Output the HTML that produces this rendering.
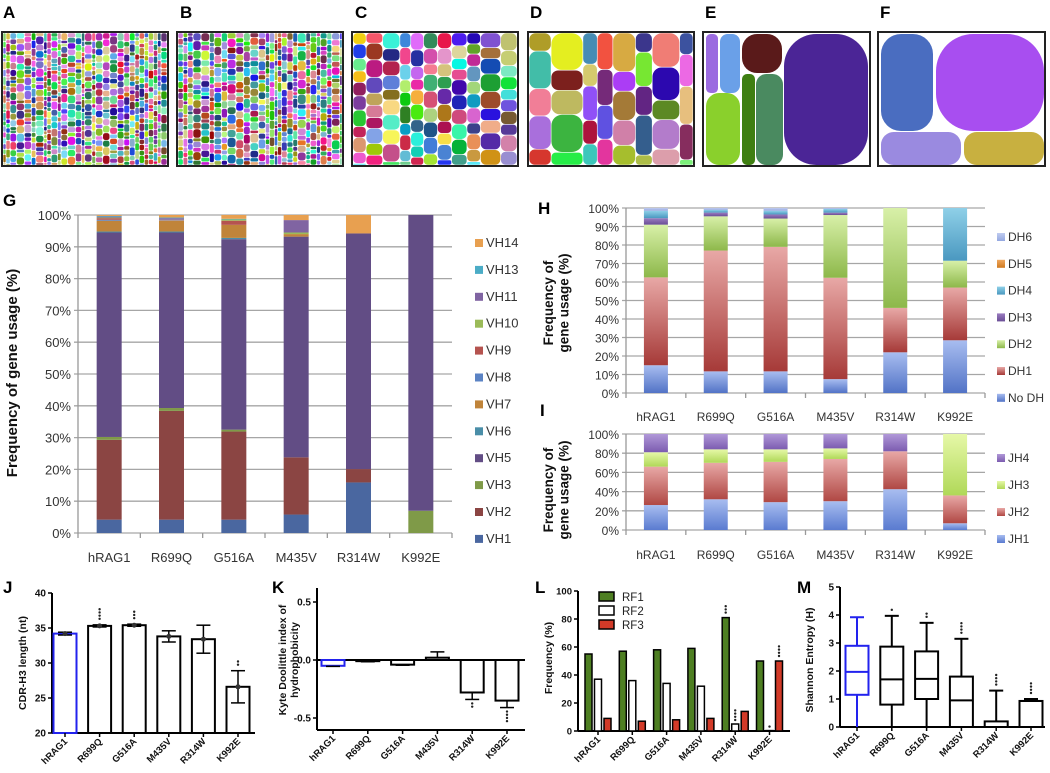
<!DOCTYPE html>
<html><head><meta charset="utf-8"><style>
html,body{margin:0;padding:0;background:#fff;}
svg{display:block;}
.nar{font-family:"Liberation Sans Narrow","Liberation Sans",sans-serif;}
.b{font-family:"Liberation Sans",sans-serif;font-weight:bold;}
</style></head><body>
<svg id="fig" xmlns="http://www.w3.org/2000/svg" width="1050" height="773" viewBox="0 0 1050 773">
<defs id="defs"></defs>
</svg>
<script>
// ---------- data ----------
const categories = ["hRAG1","R699Q","G516A","M435V","R314W","K992E"];
// G: cumulative tops (%) per VH family, bottom->top
const vhSeries = ["VH1","VH2","VH3","VH5","VH6","VH7","VH8","VH9","VH10","VH11","VH13","VH14"];
const vhColors = ["#4a67a0","#8b4543","#7f9a48","#624d85","#4a8ea8","#c0843a","#5b83c4","#b5534f","#9bbb59","#8064a2","#4bacc6","#e8a050"];
const vhHRAG1 = [4.2,25.1,0.9,64.3,0.3,3.4,0.3,0.5,0.2,0.3,0.2,0.3];
const vhR699Q = [4.2,34.2,0.9,55.2,0.3,3.4,0.1,0.1,0.1,0.5,0.2,0.8];
const vhG516A = [4.2,27.7,0.6,59.9,0.4,4.1,0,1.3,0.4,0,0.2,1.2];
const vhM435V = [5.8,18.0,0,69.4,0,0.8,0,0,0.5,3.9,0,1.6];
const vhR314W = [15.9,4.2,0,74.1,0,0,0,0,0,0,0,5.8];
const vhK992E = [0,0,7,93,0,0,0,0,0,0,0,0];
const dhSeries = ["No DH","DH1","DH2","DH3","DH4","DH5","DH6"];
const dhHRAG1 = [15,47.5,28.5,3.5,4,0,1.5];
const dhR699Q = [11.7,65.3,18.5,2,1.5,0,1];
const dhG516A = [11.7,67.3,15.3,2.2,2,0,1.5];
const dhM435V = [7.5,54.8,33.9,1.3,2,0,0.5];
const dhR314W = [22,24,54,0,0,0,0];
const dhK992E = [28.5,28.5,14.5,0,28.5,0,0];
const jhSeries = ["JH1","JH2","JH3","JH4"];
const jhHRAG1 = [26,40,15,19];
const jhR699Q = [32,38,14,16];
const jhG516A = [29,42,13,16];
const jhM435V = [30,44,11,15];
const jhR314W = [42.5,39.5,0,18];
const jhK992E = [7,29,64,0];
const cdrMean = [34.2,35.3,35.4,33.8,33.4,26.6];
const cdrErr = [0.2,0.15,0.15,0.8,2.0,2.3];
const cdrStars = [0,4,3,0,0,2];
const kdMean = [-0.05,-0.01,-0.04,0.02,-0.28,-0.35];
const kdErr = [0.005,0.005,0.005,0.05,0.06,0.06];
const kdStars = [0,0,0,0,2,4];
const rf1 = [55,57,58,59,81,50];
const rf2 = [37,36,34,32,5,0.3];
const rf3 = [9,7,8,9,14,50];
const rf1Stars = [0,0,0,0,3,0];
const rf2Stars = [0,0,0,0,4,1];
const rf3Stars = [0,0,0,0,0,4];
const shMin = [0,0,0,0,0,0];
const shQ1 = [1.15,0.8,1.0,0,0,0];
const shMed = [1.97,1.7,1.72,0.95,0,0.93];
const shQ3 = [2.9,2.87,2.7,1.8,0.2,0.93];
const shMax = [3.92,3.97,3.72,3.15,1.3,1.0];
const shStars = [0,1,2,4,4,4];
const pctTicks = [0,10,20,30,40,50,60,70,80,90,100];
const pct20Ticks = [0,20,40,60,80,100];
const cdrTicks = [20,25,30,35,40];
const kdTicks = [-0.5,0.0,0.5];
const rfTicks = [0,20,40,60,80,100];
const shTicks = [0,1,2,3,4,5];

// ---------- helpers ----------
const NS="http://www.w3.org/2000/svg";
const svg=document.getElementById('fig');
const defs=document.getElementById('defs');
function mk(tag,attrs,parent){const e=document.createElementNS(NS,tag);for(const k in attrs)e.setAttribute(k,attrs[k]);(parent||svg).appendChild(e);return e;}
function txt(s,attrs,parent){const e=mk('text',attrs,parent);e.textContent=s;return e;}
function grad(id,c1,c2){const g=mk('linearGradient',{id:id,x1:0,y1:0,x2:0,y2:1},defs);mk('stop',{offset:'0','stop-color':c1},g);mk('stop',{offset:'1','stop-color':c2},g);}

// ---------- panel letters ----------
const letters=[["A",3,18],["B",180,18],["C",355,18],["D",530,18],["E",705,18],["F",880,18],["G",3,206],["H",538,214],["I",540,416],["J",3,593],["K",272,593],["L",535,593],["M",797,593]];
letters.forEach(l=>{const t=txt(l[0],{x:l[1],y:l[2],class:'b','font-size':17,fill:'#000'});

});

// ---------- treemaps A-F (decorative) ----------
let seed=7;function rnd(){seed=(seed*16807)%2147483647;return (seed-1)/2147483646;}
function rcol(){const h=Math.floor(rnd()*360),s=40+Math.floor(rnd()*55),l=30+Math.floor(rnd()*45);return `hsl(${h},${s}%,${l}%)`;}
function treemap(name,x,y,w,h,cmin,cmax,rmin,rmax){
  const g=mk('g',{});
  
  
  mk('rect',{x:x,y:y,width:w,height:h,fill:'#fff'},g);
  let cx=x+1;
  while(cx<x+w-1){let cw=cmin+rnd()*(cmax-cmin);if(cx+cw>x+w-1)cw=x+w-1-cx;
    let cy=y+1;while(cy<y+h-1){let rh=rmin+rnd()*(rmax-rmin);if(cy+rh>y+h-1)rh=y+h-1-cy;
      const r=Math.min(cw,rh)/3;mk('rect',{x:cx+0.3,y:cy+0.3,width:Math.max(cw-0.6,0.5),height:Math.max(rh-0.6,0.5),rx:r,fill:rcol()},g);cy+=rh;}
    cx+=cw;}
  mk('rect',{x:x,y:y,width:w,height:h,fill:'none',stroke:'#222','stroke-width':2},g);
}
treemap('a',2,32,166,134,3,8,3,9);
treemap('b',177,32,166,134,3,9,3,10);
treemap('c',352,32,166,134,10,22,10,18);
treemap('d',528,32,166,134,14,34,18,40);
function fixed(name,x,y,w,h,tiles){const g=mk('g',{});
  
  
  mk('rect',{x:x,y:y,width:w,height:h,fill:'#fff'},g);
  tiles.forEach(t=>mk('rect',{x:t[0],y:t[1],width:t[2]-t[0],height:t[3]-t[1],rx:Math.min(t[2]-t[0],t[3]-t[1])/2.6,fill:t[4]},g));
  mk('rect',{x:x,y:y,width:w,height:h,fill:'none',stroke:'#222','stroke-width':2},g);}
fixed('e',703,32,167,134,[[706,34,718,93,'#9b6be0'],[720,34,740,93,'#6aa0e8'],[742,34,782,73,'#5a1a1a'],[784,34,868,165,'#4b2596'],[706,93,740,165,'#8ad02c'],[742,74,755,165,'#3f7f12'],[756,74,783,165,'#4a8a60']]);
fixed('f',878,32,167,134,[[881,34,933,131,'#4a6dc0'],[936,34,1044,131,'#a84ef0'],[881,132,961,165,'#9a8ae0'],[964,132,1044,165,'#c8b040']]);

// ---------- stacked chart generic ----------
function stacked(name,opts){
  const {x0,x1,yTop,yBot,ticks,data,colors,fillIds,series,legendX,legendY,legendStep,labelY,barW}=opts;
  const g=mk('g',{});
  
  
  const band=(x1-x0)/categories.length;
  const xs=i=>x0+band*(i+0.5);
  const ys=v=>yBot-(yBot-yTop)*v/100;
  ticks.forEach(t=>{
    const l=mk('line',{x1:x0-4,x2:x1,y1:ys(t),y2:ys(t),stroke:'#a6a6a6','stroke-width':1.3},g);
    
    
    const tl=txt(t+'%',{x:x0-7,y:ys(t)+5,'text-anchor':'end',class:'nar','font-size':opts.fs,fill:'#333'},g);
    
    
  });
  mk('line',{x1:x0,x2:x0,y1:yTop,y2:yBot,stroke:'#999','stroke-width':1.3},g);
  for(let i=0;i<=categories.length;i++){mk('line',{x1:x0+band*i,x2:x0+band*i,y1:yBot,y2:yBot+5,stroke:'#999','stroke-width':1.3},g);}
  categories.forEach((c,i)=>{
    let acc=0;
    data[i].forEach((v,k)=>{if(v<=0)return;
      const r=mk('rect',{x:xs(i)-barW/2,y:ys(acc+v),width:barW,height:ys(acc)-ys(acc+v),fill:fillIds?`url(#${fillIds[k]})`:colors[k]},g);
      
      
      acc+=v;});
    const cl=txt(c,{x:xs(i),y:labelY,'text-anchor':'middle',class:'nar','font-size':opts.fs,fill:'#333'},g);
    
    
  });
  // legend (top entry = last series)
  const n=series.length;
  series.slice().reverse().forEach((s,j)=>{const k=n-1-j;const yy=legendY+j*legendStep;
    const lg=mk('g',{},g);
    
    
    mk('rect',{x:legendX,y:yy-8,width:8,height:8,fill:fillIds?`url(#${fillIds[k]})`:colors[k]},lg);
    txt(s,{x:legendX+11,y:yy,class:'nar','font-size':opts.fs,fill:'#333'},lg);});
}
// gradients
const dhGrad=[["#a8bdf0","#5273c6"],["#e8a8a6","#a63a38"],["#d8f0a8","#8db84a"],["#9a7cc0","#6a4e96"],["#8fd0e8","#4a98c0"],["#f0a860","#d07a20"],["#c0ccf0","#94a8e0"]];
const jhGrad=[["#a8bdf0","#5a7bd0"],["#e8a8a6","#b04844"],["#e6f8a8","#b0d858"],["#b098d8","#7c5cb0"]];
dhGrad.forEach((c,i)=>grad('dh'+i,c[0],c[1]));
jhGrad.forEach((c,i)=>grad('jh'+i,c[0],c[1]));

stacked('chart-g-vh-usage',{x0:78,x1:452,yTop:215,yBot:533,ticks:pctTicks,data:[vhHRAG1,vhR699Q,vhG516A,vhM435V,vhR314W,vhK992E],colors:vhColors,series:vhSeries,legendX:475,legendY:247,legendStep:26.9,labelY:562,barW:25,fs:13});
stacked('chart-h-dh-usage',{x0:626,x1:985,yTop:208,yBot:393,ticks:pctTicks,data:[dhHRAG1,dhR699Q,dhG516A,dhM435V,dhR314W,dhK992E],fillIds:dhGrad.map((c,i)=>'dh'+i),series:dhSeries,legendX:997,legendY:241,legendStep:26.8,labelY:421,barW:24,fs:12});
stacked('chart-i-jh-usage',{x0:626,x1:985,yTop:434,yBot:530,ticks:pct20Ticks,data:[jhHRAG1,jhR699Q,jhG516A,jhM435V,jhR314W,jhK992E],fillIds:jhGrad.map((c,i)=>'jh'+i),series:jhSeries,legendX:997,legendY:462,legendStep:27,labelY:559,barW:24,fs:12});

// axis titles
function vtitle(lines,x,y,size,name){const t=mk('text',{transform:`translate(${x},${y}) rotate(-90)`,'text-anchor':'middle',class:'b','font-size':size,fill:'#111'});
  
  
  lines.forEach((s,i)=>{const ts=mk('tspan',{x:0,dy:i?size*1.15:0},t);ts.textContent=s;});}
vtitle(["Frequency of gene usage (%)"],17,373,15,'y-axis-title-g');
vtitle(["Frequency of","gene usage (%)"],553,303,13.5,'y-axis-title-h');
vtitle(["Frequency of","gene usage (%)"],553,490,13.5,'y-axis-title-i');

// ---------- bottom charts ----------
function stars(g,x,y,n,dir){for(let k=0;k<n;k++){mk('circle',{cx:x,cy:y+dir*k*3.2,r:1.2,fill:'#222'},g);}}
function catLabels(g,xs,yAxis){categories.forEach((c,i)=>{const t=txt(c,{transform:`translate(${xs(i)+3},${yAxis+9}) rotate(-45)`,'text-anchor':'end',class:'b','font-size':9.5,fill:'#111'},g);
  
  
  mk('line',{x1:xs(i),x2:xs(i),y1:yAxis,y2:yAxis+4,stroke:'#000','stroke-width':1.5},g);});}
function yTicks(g,ticks,ys,x,fmt,fs){ticks.forEach(t=>{mk('line',{x1:x-4,x2:x,y1:ys(t),y2:ys(t),stroke:'#000','stroke-width':1.5},g);
  const l=txt(fmt(t),{x:x-6,y:ys(t)+3.5,'text-anchor':'end',class:'b','font-size':fs||10,fill:'#111'},g);
  
  });}

// J
(function(){const g=mk('g',{});
 
 
 const ys=v=>733-(v-20)*7;const xs=i=>65+i*34.6;const bw=23;
 mk('line',{x1:52,x2:255,y1:733,y2:733,stroke:'#000','stroke-width':2},g);
 mk('line',{x1:52,x2:52,y1:593,y2:733,stroke:'#000','stroke-width':2},g);
 yTicks(g,cdrTicks,ys,52,t=>t,10);
 categories.forEach((c,i)=>{const col=i==0?'#2222ee':'#000';
  const r=mk('rect',{x:xs(i)-bw/2,y:ys(cdrMean[i]),width:bw,height:733-ys(cdrMean[i]),fill:'#fff',stroke:col,'stroke-width':2},g);
  
  
  const e1=ys(cdrMean[i]+cdrErr[i]),e2=ys(cdrMean[i]-cdrErr[i]);
  mk('line',{x1:xs(i),x2:xs(i),y1:e1,y2:e2,stroke:'#000','stroke-width':1.5},g);
  mk('line',{x1:xs(i)-7,x2:xs(i)+7,y1:e1,y2:e1,stroke:'#000','stroke-width':1.5},g);
  mk('line',{x1:xs(i)-7,x2:xs(i)+7,y1:e2,y2:e2,stroke:'#000','stroke-width':1.5},g);
  mk('circle',{cx:xs(i),cy:ys(cdrMean[i]),r:2.5,fill:'#333'},g);
  stars(g,xs(i),e1-6,cdrStars[i],-1);});
 catLabels(g,xs,733);
})();
vtitle(["CDR-H3 length (nt)"],26,663,10.5,'y-axis-title-j');

// K
(function(){const g=mk('g',{});
 
 
 const ys=v=>660-v*116;const xs=i=>333+i*34.8;const bw=23;
 mk('line',{x1:317,x2:317,y1:588,y2:730,stroke:'#000','stroke-width':2},g);
 mk('line',{x1:317,x2:525,y1:730,y2:730,stroke:'#000','stroke-width':2},g);
 mk('line',{x1:317,x2:525,y1:ys(0),y2:ys(0),stroke:'#000','stroke-width':2},g);
 yTicks(g,kdTicks,ys,317,t=>t.toFixed(1),10);
 categories.forEach((c,i)=>{const col=i==0?'#2222ee':'#000';const v=kdMean[i];
  const r=mk('rect',{x:xs(i)-bw/2,y:Math.min(ys(v),ys(0)),width:bw,height:Math.abs(ys(v)-ys(0)),fill:'#fff',stroke:col,'stroke-width':2},g);
  
  
  const e=v<0?ys(v-kdErr[i]):ys(v+kdErr[i]);
  mk('line',{x1:xs(i),x2:xs(i),y1:ys(v),y2:e,stroke:'#000','stroke-width':1.5},g);
  mk('line',{x1:xs(i)-7,x2:xs(i)+7,y1:e,y2:e,stroke:'#000','stroke-width':1.5},g);
  stars(g,xs(i),e+4,kdStars[i],1);});
 catLabels(g,xs,730);
})();
vtitle(["Kyte Doolittle index of","hydrophobicity"],286,660,10.5,'y-axis-title-k');

// L
(function(){const g=mk('g',{});
 
 
 const ys=v=>731-v*1.4;const xs=i=>598+i*34.3;const bw=7;
 mk('line',{x1:578,x2:578,y1:591,y2:731,stroke:'#000','stroke-width':2},g);
 mk('line',{x1:578,x2:790,y1:731,y2:731,stroke:'#000','stroke-width':2},g);
 yTicks(g,rfTicks,ys,578,t=>t,9.5);
 const sets=[[rf1,'#4e7f22',-9.5,rf1Stars,'rf1'],[rf2,'#fff',0,rf2Stars,'rf2'],[rf3,'#d23a28',9.5,rf3Stars,'rf3']];
 categories.forEach((c,i)=>{sets.forEach(s=>{const v=s[0][i];
  const r=mk('rect',{x:xs(i)+s[2]-bw/2,y:ys(v),width:bw,height:731-ys(v),fill:s[1],stroke:'#000','stroke-width':1.5},g);
  
  
  const n=s[3][i];if(n){ if(s[4]==='rf2'){stars(g,xs(i)+s[2],ys(v)-4,n,-1);} else stars(g,xs(i)+s[2],ys(v)-5,n,-1);} });});
 catLabels(g,xs,731);
 [['RF1','#4e7f22'],['RF2','#fff'],['RF3','#d23a28']].forEach((e,j)=>{const lg=mk('g',{},g);
  
  
  mk('rect',{x:599,y:592+j*14,width:15,height:9,fill:e[1],stroke:'#000','stroke-width':1.5},lg);
  txt(e[0],{x:622,y:601+j*14,class:'nar','font-size':11.5,fill:'#222'},lg);});
})();
vtitle(["Frequency (%)"],552,658,10.5,'y-axis-title-l');

// M
(function(){const g=mk('g',{});
 
 
 const ys=v=>727-v*28;const xs=i=>857+i*34.8;const bw=23;
 mk('line',{x1:840,x2:840,y1:587,y2:727,stroke:'#000','stroke-width':2},g);
 mk('line',{x1:840,x2:1045,y1:727,y2:727,stroke:'#000','stroke-width':2},g);
 yTicks(g,shTicks,ys,840,t=>t,10);
 categories.forEach((c,i)=>{const col=i==0?'#2222ee':'#000';
  const bx=mk('g',{},g);
  
  
  mk('line',{x1:xs(i),x2:xs(i),y1:ys(shMax[i]),y2:ys(shMin[i]),stroke:col,'stroke-width':2},bx);
  mk('line',{x1:xs(i)-7,x2:xs(i)+7,y1:ys(shMax[i]),y2:ys(shMax[i]),stroke:col,'stroke-width':2},bx);
  mk('rect',{x:xs(i)-bw/2,y:ys(shQ3[i]),width:bw,height:Math.max(ys(shQ1[i])-ys(shQ3[i]),1),fill:'#fff',stroke:col,'stroke-width':2},bx);
  mk('line',{x1:xs(i)-bw/2,x2:xs(i)+bw/2,y1:ys(shMed[i]),y2:ys(shMed[i]),stroke:col,'stroke-width':2},bx);
  stars(g,xs(i),ys(shMax[i])-6,shStars[i],-1);});
 catLabels(g,xs,727);
})();
vtitle(["Shannon Entropy (H)"],813,660,10.5,'y-axis-title-m');
</script>
</body></html>
